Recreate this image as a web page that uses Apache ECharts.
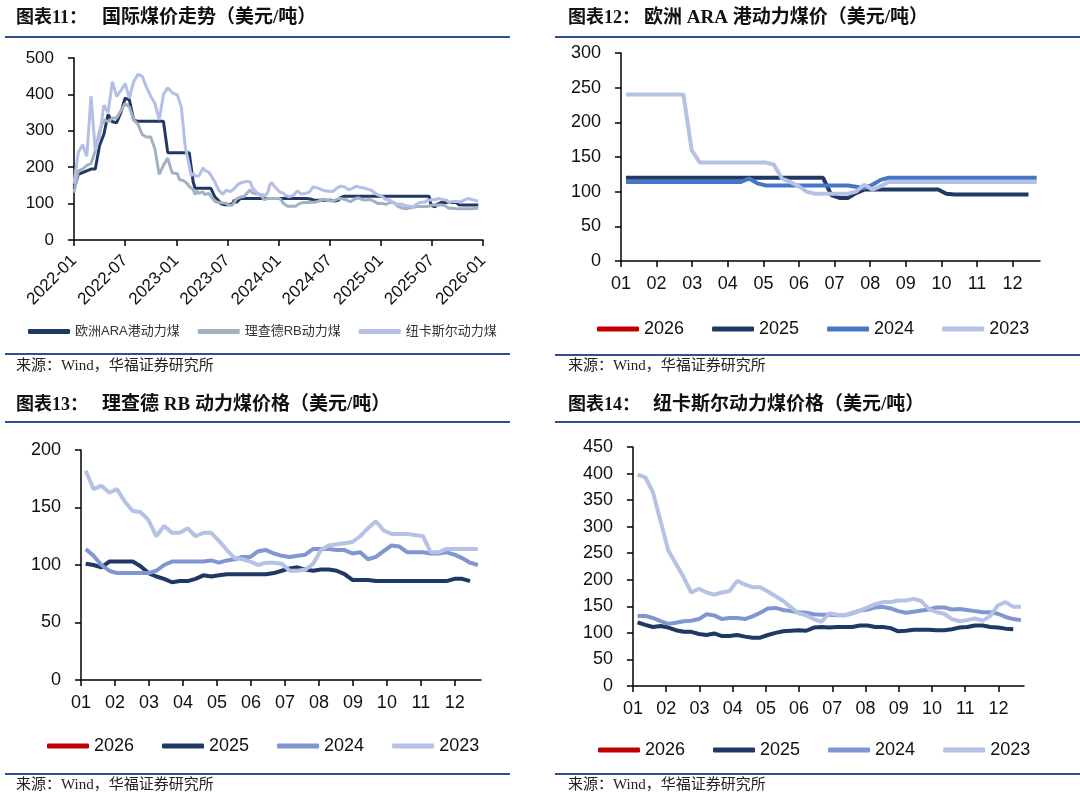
<!DOCTYPE html>
<html><head><meta charset="utf-8">
<script src="https://cdn.jsdelivr.net/npm/echarts@6/dist/echarts.min.js"></script>
<style>
html,body{margin:0;padding:0;background:#fff;}
#wrap{position:relative;width:1080px;height:797px;overflow:hidden;}
.p{position:absolute;}
</style></head><body>
<div id="wrap">
<div id="c1" class="p" style="left:0;top:0;width:540px;height:380px"></div>
<div id="c2" class="p" style="left:540px;top:0;width:540px;height:380px"></div>
<div id="c3" class="p" style="left:0;top:380px;width:540px;height:417px"></div>
<div id="c4" class="p" style="left:540px;top:380px;width:540px;height:417px"></div>
</div>
<script>
// ---------- labels ----------
const monthLabels = ['01','02','03','04','05','06','07','08','09','10','11','12'];
const panel1Ticks = ['2022-01','2022-07','2023-01','2023-07','2024-01','2024-07','2025-01','2025-07','2026-01'];
const yearNames = ['2026','2025','2024','2023'];
const panel1Names = ['欧洲ARA港动力煤','理查德RB动力煤','纽卡斯尔动力煤'];

// ---------- 2022 (semi-monthly readings, panel 11) ----------
const ara2022 = [140,180,185,190,195,195,260,290,345,325,322,350,390,385,330,326,326,326,326,326,326,326,240,240];
const rb2022  = [130,190,195,205,210,245,300,330,325,335,335,355,375,365,330,318,290,283,283,250,180,205,225,185];
const nc2022  = [155,240,262,230,395,245,285,370,350,435,395,410,430,390,435,455,450,420,395,375,330,400,418,405];

// ---------- weekly, ARA ----------
const ara2023 = [240,240,240,240,240,240,240,240,160,142,142,142,142,142,142,142,142,142,139,119,114,108,100,97,97,97,97,97,100,110,103,108,114,114,114,114,114,114,114,114,114,114,114,114,114,114,114,114,114,114,114];
const ara2024 = [114,114,114,114,114,114,114,114,114,114,114,114,114,114,114,119,112,109,109,109,109,109,109,109,109,109,109,109,107,105,110,117,120,120,120,120,120,120,120,120,120,120,120,120,120,120,120,120,120,120,120];
const ara2025 = [120,120,120,120,120,120,120,120,120,120,120,120,120,120,120,120,120,120,120,120,120,120,120,120,120,95,91,91,98,103,103,103,103,103,103,103,103,103,103,97,96,96,96,96,96,96,96,96,96,96];
const ara2026 = [];

// ---------- weekly, Richards Bay ----------
const rb2023 = [182,166,169,163,166,155,147,146,139,125,134,128,128,132,125,128,128,121,113,106,105,103,100,102,102,101,95,95,96,101,113,117,118,119,120,125,132,138,130,127,127,127,126,125,111,111,114,114,114,114,114];
const rb2024 = [114,108,100,95,93,93,93,93,93,95,100,103,103,103,103,103,104,102,104,105,107,107,112,113,110,108,107,108,109,114,114,114,113,113,110,111,105,107,112,117,116,111,111,111,110,110,111,109,106,102,100];
const rb2025 = [101,100,98,103,103,103,103,99,93,90,88,85,86,86,88,91,90,91,92,92,92,92,92,92,93,95,97,98,96,95,96,96,95,92,87,87,87,86,86,86,86,86,86,86,86,86,86,88,88,86];
const rb2026 = [];

// ---------- weekly, Newcastle ----------
const nc2023 = [398,393,365,310,255,230,205,176,183,176,172,176,179,198,191,186,186,178,169,160,148,137,133,126,121,137,134,133,138,142,148,154,158,158,161,161,164,160,145,139,136,126,122,124,127,123,132,152,158,149,149];
const nc2024 = [132,132,128,122,117,119,122,123,126,135,133,126,128,128,126,131,138,146,147,143,141,139,138,135,134,134,133,133,137,142,144,148,149,146,141,138,140,142,144,148,148,144,145,143,141,139,139,136,130,126,124];
const nc2025 = [120,115,111,113,110,105,102,102,98,96,99,94,94,96,93,91,91,96,100,103,104,105,104,110,111,110,111,111,111,114,114,111,111,109,103,104,106,106,106,105,105,107,110,111,114,114,111,110,108,107];
const nc2026 = [];

// ---------- helpers ----------
const NUM_FONT = "'Liberation Sans', Arial, sans-serif";
const CJK = "'Noto Sans CJK SC'";
const PREFIX_FONT = "bold 18px 'Liberation Serif', " + CJK;
const TITLE_FONT = "bold 19px 'Liberation Serif', " + CJK;
const SRC_FONT = "15px 'Liberation Serif', " + CJK;
const LINE_BLUE = '#2c4f96';
const NAVY = '#203864', RED = '#c00000', LIGHT = '#b6c1e6';

const wk = arr => arr.map((v, i) => [i + 0.6, v]);
const semi = arr => arr.map((v, i) => [i * 0.5, v]);
const wkYear = (arr, y) => arr.map((v, i) => [y * 12 + (i + 0.6) * 12 / 52, v]);
const monthPos = monthLabels.map((_, k) => k * 52 / 12);

function frame(prefix, body, tx, bx, ty, lx1, lx2, ly, by, sx, sy) {
  return [
    {type:'text', x:tx, y:ty, style:{text:prefix, font:PREFIX_FONT, fill:'#111', verticalAlign:'middle'}},
    {type:'text', x:bx, y:ty, style:{text:body, font:TITLE_FONT, fill:'#111', verticalAlign:'middle'}},
    {type:'line', shape:{x1:lx1, y1:ly, x2:lx2, y2:ly}, style:{stroke:LINE_BLUE, lineWidth:2}},
    {type:'line', shape:{x1:lx1, y1:by, x2:lx2, y2:by}, style:{stroke:LINE_BLUE, lineWidth:2}},
    {type:'text', x:sx, y:sy, style:{text:'来源：Wind，华福证券研究所', font:SRC_FONT, fill:'#222', verticalAlign:'middle'}}
  ];
}

function yAxisCfg(max, interval, fs) {
  return {
    type:'value', min:0, max:max, interval:interval,
    axisLine:{show:true, lineStyle:{color:'#000', width:1.5}},
    axisTick:{show:true, length:6, lineStyle:{color:'#000', width:1.5}},
    axisLabel:{fontSize:fs, color:'#111', fontFamily:NUM_FONT, margin:20},
    splitLine:{show:false}
  };
}

function yearPanel(id, o) {
  const chart = echarts.init(document.getElementById(id), null, {renderer:'canvas'});
  const data = [o.d2026, o.d2025, o.d2024, o.d2023];
  const colors = [RED, NAVY, o.c2024, LIGHT];
  chart.setOption({
    animation:false,
    backgroundColor:'#fff',
    grid:o.grid,
    xAxis:{
      type:'value', min:0, max:51,
      axisLine:{lineStyle:{color:'#000', width:1.5}},
      axisTick:{show:true, length:6, lineStyle:{color:'#000', width:1.5}, customValues:monthPos},
      axisLabel:{customValues:monthPos, formatter:v => monthLabels[Math.round(v * 12 / 52)], fontSize:18, color:'#111', fontFamily:NUM_FONT, margin:14},
      splitLine:{show:false}
    },
    yAxis:yAxisCfg(o.ymax, o.yint, 18),
    legend:{
      data:yearNames, left:o.legLeft, top:o.legTop, padding:0, icon:'roundRect', itemWidth:42, itemHeight:5,
      itemGap:28, textStyle:{fontSize:18, color:'#111', fontFamily:NUM_FONT}
    },
    series:yearNames.map((n, k) => ({
      name:n, type:'line', data:wk(data[k]), symbol:'none', showSymbol:false,
      color:colors[k], lineStyle:{width:4, color:colors[k]}, itemStyle:{color:colors[k]}
    })),
    graphic:o.graphic
  });
}

// ---------- panel 11 ----------
(function(){
  const chart = echarts.init(document.getElementById('c1'));
  const ser = [
    semi(ara2022).concat(wkYear(ara2023,1), wkYear(ara2024,2), wkYear(ara2025,3)),
    semi(rb2022).concat(wkYear(rb2023,1), wkYear(rb2024,2), wkYear(rb2025,3)),
    semi(nc2022).concat(wkYear(nc2023,1), wkYear(nc2024,2), wkYear(nc2025,3))
  ];
  const cols = [NAVY, '#a3b1c3', '#b4bee7'];
  chart.setOption({
    animation:false,
    backgroundColor:'#fff',
    grid:{left:74, top:58, width:409, height:182},
    xAxis:{
      type:'value', min:0, max:48, interval:6,
      axisLine:{lineStyle:{color:'#000', width:1.5}},
      axisTick:{show:true, length:6, lineStyle:{color:'#000', width:1.5}},
      axisLabel:{rotate:45, formatter:v => panel1Ticks[Math.round(v / 6)], fontSize:17, color:'#111', fontFamily:NUM_FONT, margin:18},
      splitLine:{show:false}
    },
    yAxis:yAxisCfg(500, 100, 17),
    legend:{
      data:panel1Names, left:28, top:325, padding:0, icon:'roundRect', itemWidth:42, itemHeight:5, itemGap:18,
      textStyle:{fontSize:13, color:'#333', fontFamily:"'Liberation Sans', " + CJK}
    },
    series:panel1Names.map((n, k) => ({
      name:n, type:'line', data:ser[k], symbol:'none', showSymbol:false,
      color:cols[k], lineStyle:{width:3, color:cols[k]}, itemStyle:{color:cols[k]}
    })),
    graphic:frame('图表11：', '国际煤价走势（美元/吨）', 16, 102, 18, 5, 510, 37, 354, 16, 366)
  });
})();

// ---------- panel 12 ----------
yearPanel('c2', {
  d2026:ara2026, d2025:ara2025, d2024:ara2024, d2023:ara2023, c2024:'#4676c6',
  grid:{left:81, top:53, width:419, height:208}, ymax:300, yint:50,
  legLeft:57, legTop:320,
  graphic:frame('图表12：', '欧洲 ARA 港动力煤价（美元/吨）', 28, 104, 18, 15, 540, 37, 355, 28, 366)
});

// ---------- panel 13 ----------
yearPanel('c3', {
  d2026:rb2026, d2025:rb2025, d2024:rb2024, d2023:rb2023, c2024:'#7f96d1',
  grid:{left:81, top:70, width:400, height:230}, ymax:200, yint:50,
  legLeft:47, legTop:357,
  graphic:frame('图表13：', '理查德 RB 动力煤价格（美元/吨）', 16, 102, 25, 5, 510, 42, 394, 16, 405)
});

// ---------- panel 14 ----------
yearPanel('c4', {
  d2026:nc2026, d2025:nc2025, d2024:nc2024, d2023:nc2023, c2024:'#7f96d1',
  grid:{left:93, top:67, width:391, height:239}, ymax:450, yint:50,
  legLeft:58, legTop:361,
  graphic:frame('图表14：', '纽卡斯尔动力煤价格（美元/吨）', 28, 113, 25, 15, 540, 42, 394, 28, 405)
});
</script>
</body></html>
